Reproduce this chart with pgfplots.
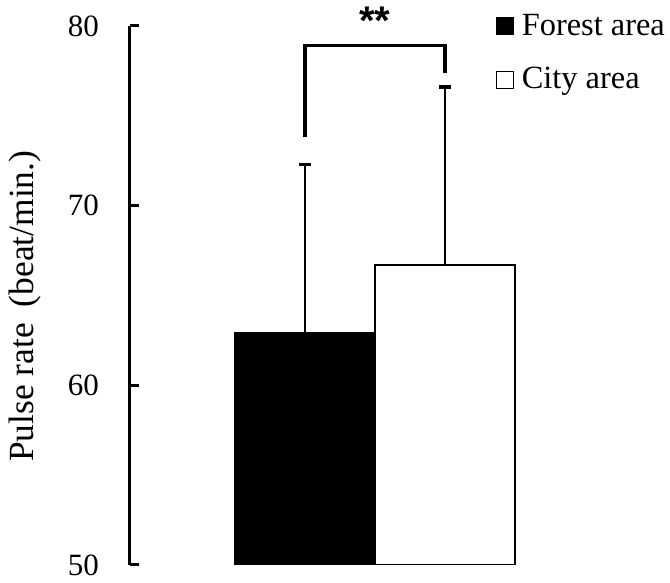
\documentclass[border=0pt]{standalone}
\usepackage{fontspec}
\setmainfont{Liberation Serif}
\newfontfamily\sansf{Liberation Sans}
\usepackage{pgfplots}
\pgfplotsset{compat=1.18}
\begin{document}
\begin{tikzpicture}
\useasboundingbox (0,0) rectangle (335pt,291.5pt);
\begin{axis}[
  at={(65pt,9pt)}, anchor=south west,
  scale only axis, width=269.5pt, height=269.5pt,
  xmin=-1.25, xmax=2.6, ymin=50, ymax=80,
  axis x line=none, axis y line=left,
  separate axis lines,
  axis line style={-, line width=1.5pt, black},
  y axis line style={-, line width=1.5pt, black},
  ytick={50,60,70,80},
  tick align=inside, major tick length=4.5pt,
  ytick style={line width=1.5pt, black},
  tick style={line width=1.5pt, black},
  /pgf/number format/assume math mode=true,
  yticklabel style={font=\fontsize{15.5}{18}\selectfont, xshift=-12pt},
  every axis y label/.style={at={(axis description cs:-0.195,0.48)}, rotate=90, anchor=center, font=\fontsize{17.7}{20}\selectfont},
  ylabel={Pulse rate\hspace{0.45em}(beat/min.)},
  clip mode=individual,
  legend style={at={(axis cs:1.36,80.9)}, anchor=north west, draw=none, fill=none, inner sep=0pt,
    font=\fontsize{16.2}{19}\selectfont, row sep=10.5pt, cells={anchor=west},
    nodes={inner sep=2pt}},
]
\addplot[ybar, bar width=70pt, fill=black, draw=black, line width=0.8pt, forget plot,
  error bars/.cd, y dir=plus, y explicit,
  error bar style={line width=1pt, black},
  error mark options={rotate=90, mark size=3pt, line width=1.6pt, black}]
  coordinates {(0,62.9) +- (0,9.4)};
\addplot[ybar, bar width=70pt, fill=white, draw=black, line width=0.8pt, forget plot,
  error bars/.cd, y dir=plus, y explicit,
  error bar style={line width=1pt, black},
  error mark options={rotate=90, mark size=3pt, line width=1.6pt, black}]
  coordinates {(1,66.7) +- (0,9.9)};
% significance bracket
\addplot[black, line width=1.6pt, forget plot] coordinates {(0,73.8) (0,78.9) (1,78.9) (1,77.4)};
\node[font=\sansf\bfseries\fontsize{20}{24}\selectfont] at (axis cs:0.5,80.3) {**};
\addlegendimage{legend image code/.code={\draw[fill=black, draw=black, line width=0.6pt] (0pt,-4.25pt) rectangle (8.5pt,4.25pt); \path (10.5pt,0pt);}}
\addlegendentry{Forest area}
\addlegendimage{legend image code/.code={\draw[fill=white, draw=black, line width=0.6pt] (0pt,-4.25pt) rectangle (8.5pt,4.25pt); \path (10.5pt,0pt);}}
\addlegendentry{City area}
\end{axis}
\end{tikzpicture}
\end{document}
